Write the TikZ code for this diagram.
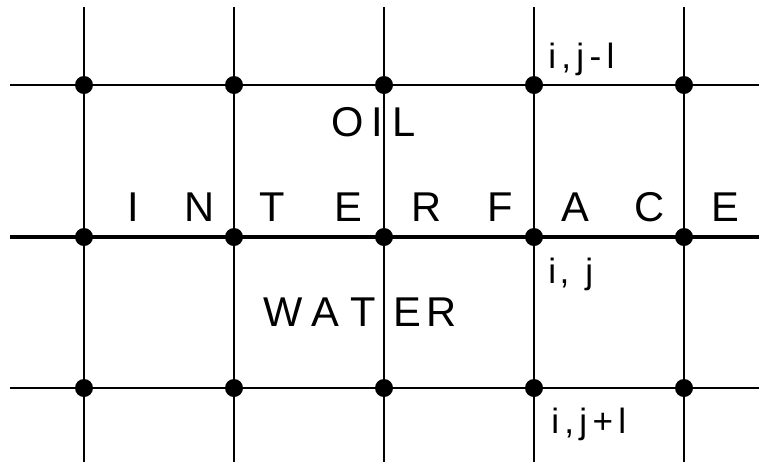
\documentclass[tikz,border=0pt]{standalone}
\usepackage{fontspec}
\setmainfont{Liberation Sans}
\newcommand{\lgap}{\hspace{3pt}}

\begin{document}
\begin{tikzpicture}[x=0.02cm,y=-0.02cm,
  gridline/.style={line width=0.8pt},
  iface/.style={line width=2.8pt},
  gpt/.style={circle,fill=black,inner sep=0pt,minimum size=0.36cm},
  capl/.style={font=\fontsize{23.7}{28}\selectfont,inner sep=0pt},
  lbl/.style={font=\fontsize{20}{24}\selectfont,inner sep=0pt,anchor=base west}]
\useasboundingbox (0,0) rectangle (759,464);
% ends of the grid lines
\foreach \c/\x in {1/84,2/234,3/384,4/534,5/684} {
  \coordinate (t\c) at (\x,7);
  \coordinate (b\c) at (\x,462);
}
\foreach \r/\y in {1/85,2/237,3/388} {
  \coordinate (l\r) at (10,\y);
  \coordinate (r\r) at (759,\y);
}
\foreach \c in {1,...,5} \draw[gridline] (t\c) -- (b\c);
\draw[gridline] (l1) -- (r1);
\draw[iface] (l2) -- (r2);
\draw[gridline] (l3) -- (r3);
% grid points
\foreach \c/\x in {1/84,2/234,3/384,4/534,5/684}
  \foreach \r/\y in {1/85,2/237,3/388}
    \node[gpt] (p\c\r) at (\x,\y) {};
% phases
\foreach \ch/\x [count=\k] in {O/348,I/377,L/404}
  \node[capl] (oil\k) at (\x,122) {\ch};
\foreach \ch/\x [count=\k] in {W/283,A/325,T/363,E/407,R/442}
  \node[capl] (water\k) at (\x,312) {\ch};
\foreach \ch/\x [count=\k] in {I/133,N/200,T/272,E/348,R/427,F/500,A/575,C/650,E/725}
  \node[capl] (iface\k) at (\x,207) {\ch};
% node labels
\node[lbl] (lup) at (548,68) {i\lgap,\lgap j\lgap-\lgap l};
\node[lbl] (lmid) at (548,283) {i\hspace{2pt},\hspace{9pt}j};
\node[lbl] (ldown) at (551,433) {i\lgap,\lgap j\lgap+\lgap l};
\end{tikzpicture}
\end{document}
